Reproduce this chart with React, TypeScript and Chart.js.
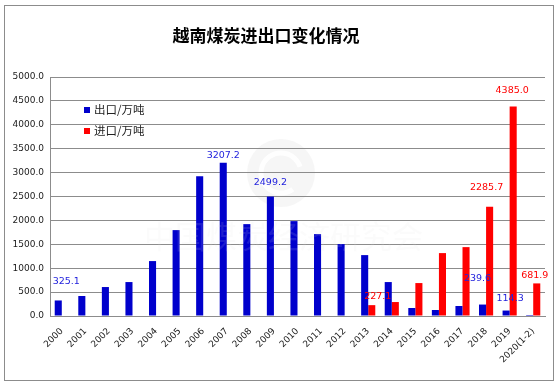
import { useEffect, useRef } from "react";
import { Chart, registerables } from "chart.js";

Chart.register(...registerables);

const categories = [
  "2000", "2001", "2002", "2003", "2004", "2005", "2006", "2007", "2008", "2009", "2010",
  "2011", "2012", "2013", "2014", "2015", "2016", "2017", "2018", "2019", "2020(1-2)",
];
const exportValues = [
  325.1, 418, 606, 710, 1149, 1797, 2925, 3207.2, 1922, 2499.2, 1985,
  1713, 1504, 1274, 710, 167, 125, 209, 239.6, 114.3, 21,
];
const importValues = [
  null, null, null, null, null, null, null, null, null, null, null,
  null, null, 227.1, 292, 689, 1316, 1441, 2285.7, 4385.0, 681.9,
];
const seriesNames = ["出口/万吨", "进口/万吨"];
const exportLabelIdx = [0, 7, 9, 18, 19];
const importLabelIdx = [13, 18, 19, 20];
const yMin = 0;
const yMax = 5000;
const yStep = 500;
const title = "越南煤炭进出口变化情况";
const watermark = "中国煤炭经济研究会";

const BLUE = "#0000CC";
const RED = "#FF0000";
const GRID = "#8c8c8c";

// label offsets relative to the bar top (dx, lift) — styling only
const labelShift: Record<string, [number, number]> = {
  "0-0": [8, 19], "0-7": [0, 7], "0-9": [0, 14], "0-18": [-5, 26], "0-19": [4, 12],
  "1-13": [6, 9], "1-18": [-3, 19], "1-19": [-1, 16], "1-20": [-2, 8],
};

const decorPlugin = {
  id: "decor",
  beforeDraw(chart: any) {
    const { ctx, width, height } = chart;
    ctx.save();
    ctx.fillStyle = "#ffffff";
    ctx.fillRect(0, 0, width, height);
    ctx.strokeStyle = GRID;
    ctx.lineWidth = 1;
    ctx.strokeRect(4.5, 5.5, 549, 375);
    ctx.fillStyle = "#000000";
    ctx.font = "bold 17px 'Noto Sans CJK SC'";
    ctx.textAlign = "center";
    ctx.textBaseline = "middle";
    ctx.fillText(title, 266, 36);
    // faint logo
    ctx.fillStyle = "rgba(240,240,240,0.6)";
    ctx.beginPath();
    ctx.arc(281, 173, 34, 0, Math.PI * 2);
    ctx.fill();
    ctx.strokeStyle = "rgba(255,255,255,0.9)";
    ctx.lineWidth = 5;
    ctx.beginPath();
    ctx.arc(281, 173, 20, 0.3 * Math.PI, 1.9 * Math.PI);
    ctx.stroke();
    ctx.restore();
  },
  afterDatasetsDraw(chart: any) {
    const { ctx } = chart;
    ctx.save();
    // faint watermark
    ctx.fillStyle = "rgba(225,225,225,0.13)";
    ctx.font = "31px 'Liberation Serif', 'Noto Sans CJK SC'";
    ctx.textAlign = "left";
    ctx.textBaseline = "middle";
    ctx.fillText(watermark, 144, 240);

    // data labels
    ctx.font = "9.5px 'DejaVu Sans'";
    ctx.textAlign = "center";
    ctx.textBaseline = "middle";
    const lists = [exportLabelIdx, importLabelIdx];
    chart.data.datasets.forEach((ds: any, di: number) => {
      const meta = chart.getDatasetMeta(di);
      ctx.fillStyle = di === 0 ? "#2222dd" : "#ff0000";
      lists[di].forEach((i: number) => {
        const el = meta.data[i];
        const v = ds.data[i];
        if (!el || v == null) return;
        const [dx, lift] = labelShift[`${di}-${i}`] || [0, 12];
        ctx.fillText(Number(v).toFixed(1), el.x + dx, el.y - lift);
      });
    });

    // legend
    ctx.font = "11.5px 'Noto Sans CJK SC'";
    ctx.textAlign = "left";
    ctx.textBaseline = "middle";
    chart.data.datasets.forEach((ds: any, di: number) => {
      const y = 110 + di * 21;
      ctx.fillStyle = ds.backgroundColor;
      ctx.fillRect(84, y - 3, 6, 6);
      ctx.fillStyle = "#222222";
      ctx.fillText(ds.label, 94, y);
    });
    ctx.restore();
  },
};

export default function App() {
  const ref = useRef<HTMLCanvasElement | null>(null);
  useEffect(() => {
    if (!ref.current) return;
    const chart = new Chart(ref.current, {
      type: "bar",
      data: {
        labels: categories,
        datasets: [
          {
            label: seriesNames[0],
            data: exportValues,
            backgroundColor: BLUE,
            categoryPercentage: 0.6,
            barPercentage: 1,
          },
          {
            label: seriesNames[1],
            data: importValues as any,
            backgroundColor: RED,
            categoryPercentage: 0.6,
            barPercentage: 1,
          },
        ],
      },
      options: {
        animation: false,
        responsive: false,
        devicePixelRatio: 1,
        layout: { padding: { left: 0, top: 77, right: 13, bottom: 0 } },
        plugins: {
          legend: { display: false },
          title: { display: false },
          tooltip: { enabled: false },
        },
        scales: {
          x: {
            grid: { display: false, drawTicks: false },
            border: { color: GRID, width: 1 },
            ticks: {
              autoSkip: false,
              minRotation: 45,
              maxRotation: 45,
              padding: 10,
              color: "#1a1a1a",
              font: { family: "'DejaVu Sans'", size: 9 },
            },
            afterFit: (s: any) => {
              s.height = 70;
            },
          },
          y: {
            min: yMin,
            max: yMax,
            grid: { color: GRID, drawTicks: false },
            border: { color: GRID, width: 1 },
            ticks: {
              stepSize: yStep,
              padding: 6,
              color: "#1a1a1a",
              font: { family: "'DejaVu Sans'", size: 9 },
              callback: (v: any) => Number(v).toFixed(1),
            },
            afterFit: (s: any) => {
              s.width = 50;
            },
          },
        },
      },
      plugins: [decorPlugin],
    });
    return () => chart.destroy();
  }, []);
  return (
    <div style={{ position: "absolute", left: 0, top: 0, width: 558, height: 386 }}>
      <canvas ref={ref} width={558} height={386} style={{ display: "block" }} />
    </div>
  );
}
